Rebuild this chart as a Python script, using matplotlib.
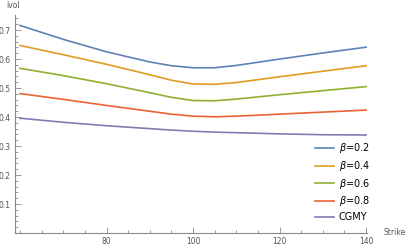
import matplotlib
matplotlib.use("Agg")
import matplotlib.pyplot as plt
from matplotlib.ticker import MultipleLocator, FixedLocator

strikes = [60, 70, 80, 90, 95, 100, 105, 110, 120, 130, 140]
beta02 = [0.716, 0.668, 0.625, 0.590, 0.577, 0.570, 0.570, 0.578, 0.600, 0.621, 0.641]
beta04 = [0.647, 0.615, 0.582, 0.546, 0.527, 0.514, 0.513, 0.519, 0.539, 0.558, 0.577]
beta06 = [0.568, 0.543, 0.515, 0.484, 0.468, 0.457, 0.456, 0.462, 0.477, 0.491, 0.505]
beta08 = [0.481, 0.461, 0.440, 0.420, 0.410, 0.403, 0.401, 0.403, 0.410, 0.417, 0.424]
cgmy   = [0.396, 0.382, 0.370, 0.360, 0.355, 0.351, 0.348, 0.346, 0.342, 0.339, 0.338]

series = [beta02, beta04, beta06, beta08, cgmy]
labels = [r"$\beta$=0.2", r"$\beta$=0.4", r"$\beta$=0.6", r"$\beta$=0.8", "CGMY"]
colors = ["#5E81B5", "#E19C24", "#8FB032", "#EB6235", "#8778B3"]

fig = plt.figure(figsize=(4.08, 2.45), dpi=100)
ax = fig.add_axes([15/408, 12/245, 352/408, 218/245])

for y, lab, c in zip(series, labels, colors):
    ax.plot(strikes, y, color=c, lw=1.2, label=lab)

ax.set_xlim(58.85, 140.2)
ax.set_ylim(0, 0.752)

for s in ["top", "right"]:
    ax.spines[s].set_visible(False)
for s in ["left", "bottom"]:
    ax.spines[s].set_color("#888888")
    ax.spines[s].set_linewidth(0.8)

ax.xaxis.set_major_locator(FixedLocator([80, 100, 120, 140]))
ax.xaxis.set_minor_locator(MultipleLocator(5))
ax.yaxis.set_major_locator(FixedLocator([0.1, 0.2, 0.3, 0.4, 0.5, 0.6, 0.7]))
ax.yaxis.set_minor_locator(MultipleLocator(0.02))
ax.tick_params(which="both", direction="in", color="#888888", labelcolor="#555555",
               labelsize=5.5, width=0.6, pad=3)
ax.tick_params(which="major", length=4)
ax.tick_params(which="minor", length=2.5)
ax.yaxis.set_major_formatter(matplotlib.ticker.FuncFormatter(lambda v, p: f"{v:.1f}"))

fig.text(6/408, 1 - 6/245, "Ivol", fontsize=5.5, color="#555555", va="center", ha="left")
fig.text(383/408, 1 - 232/245, "Strike", fontsize=5.5, color="#555555", va="center", ha="left")

leg = ax.legend(loc="lower right", bbox_to_anchor=(375/408, 1 - 227/245),
                bbox_transform=fig.transFigure, frameon=False, fontsize=7,
                handlelength=2.0, handletextpad=0.5, labelspacing=0.38, borderpad=0)

fig.savefig("out.png", dpi=100)
